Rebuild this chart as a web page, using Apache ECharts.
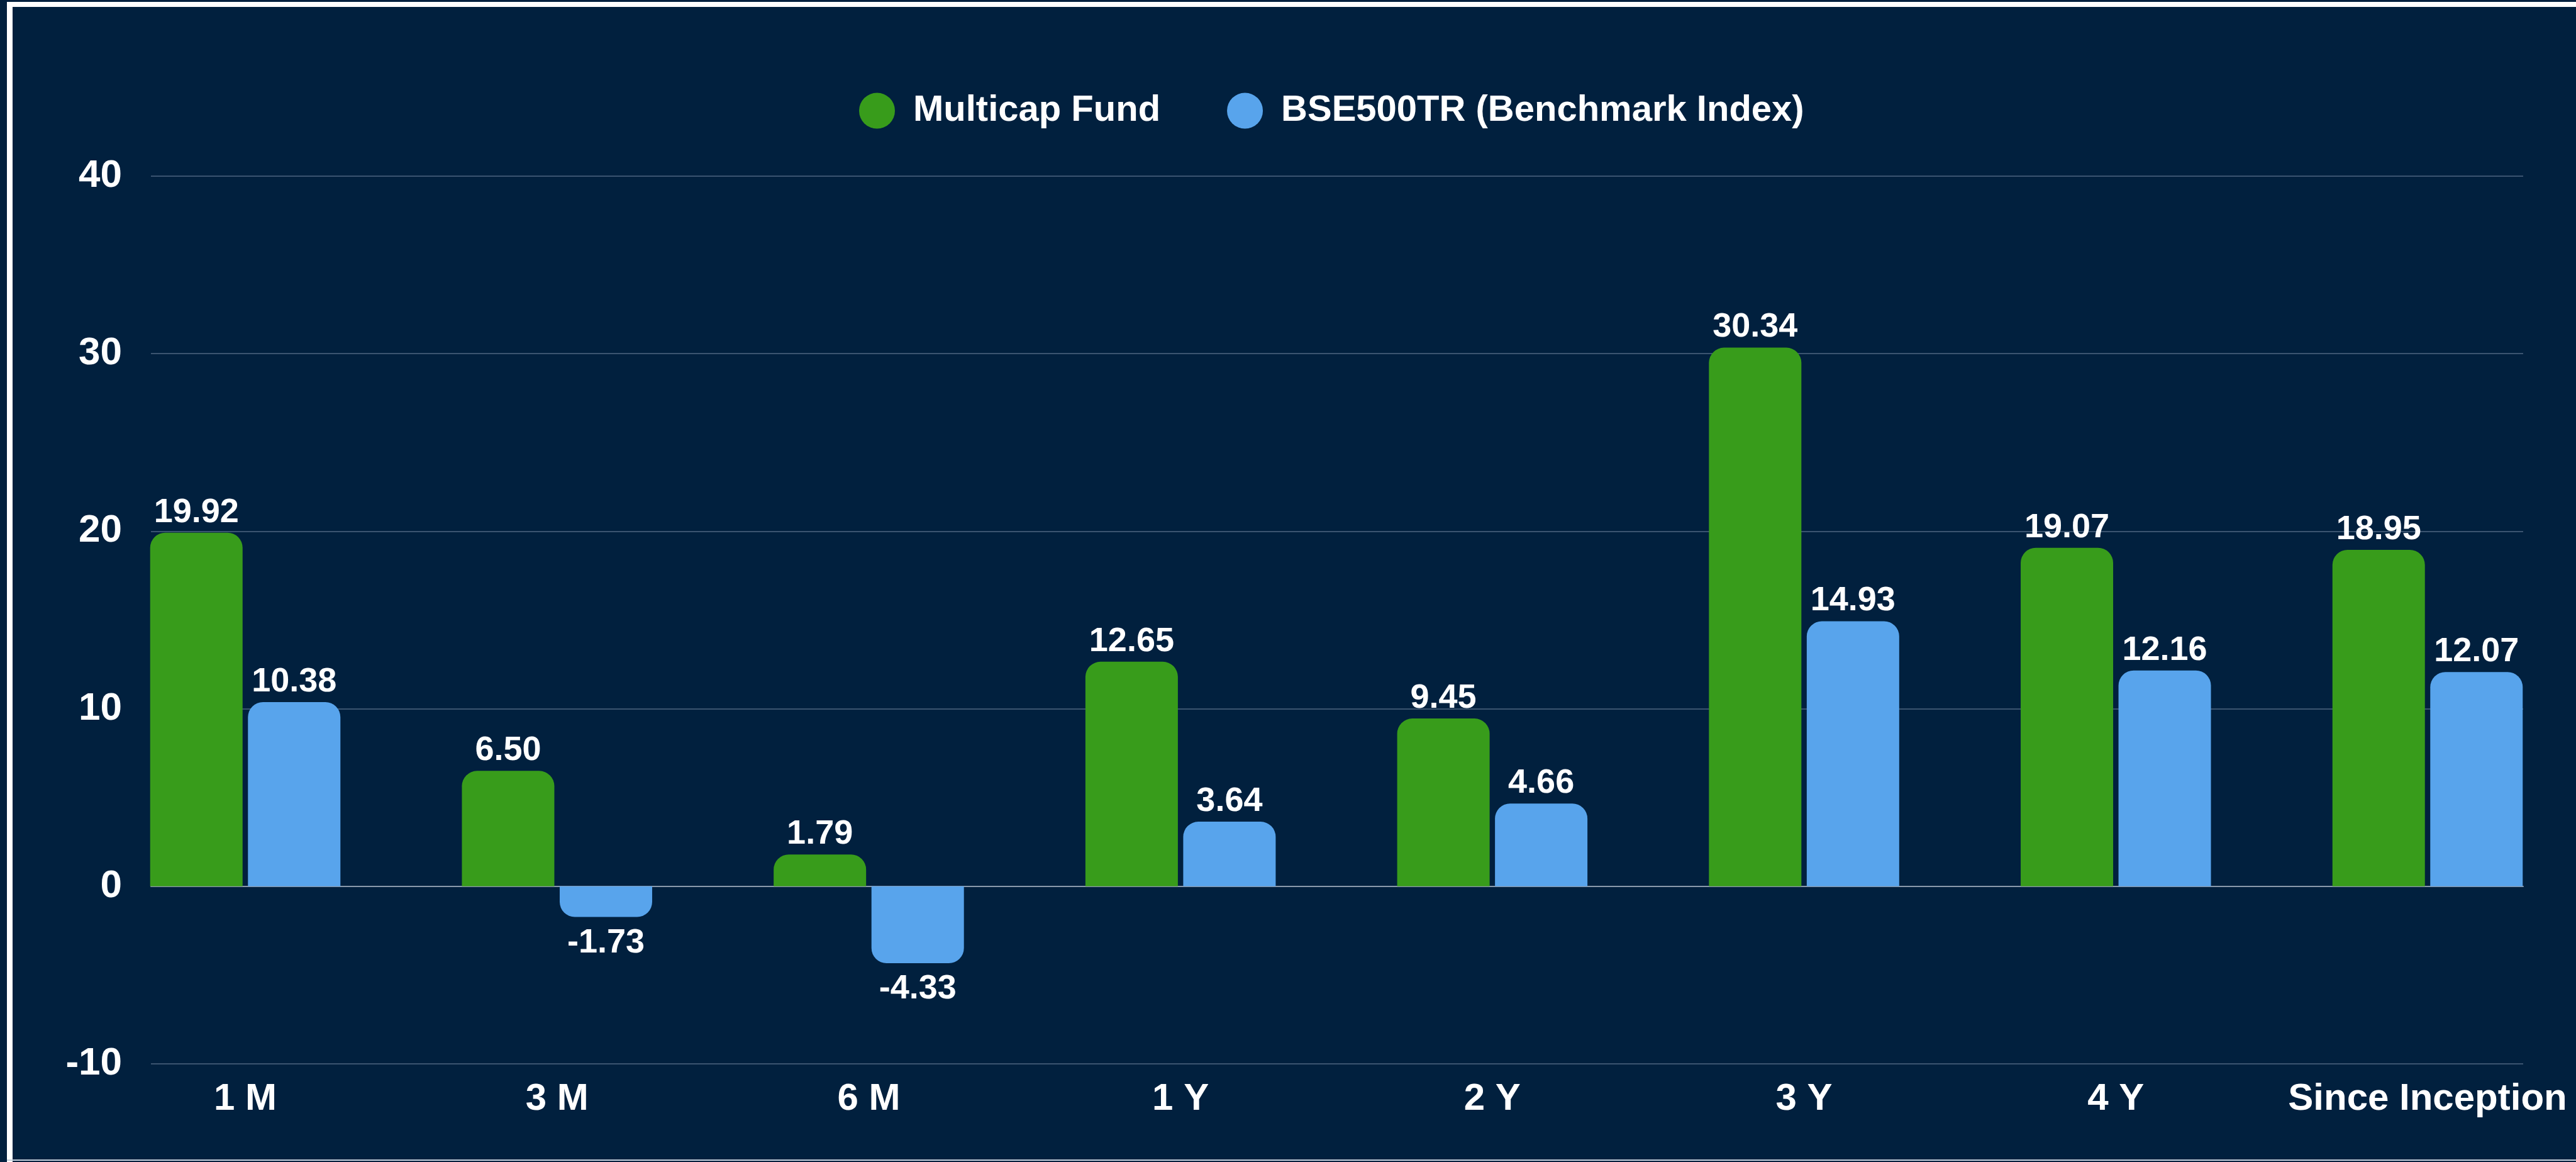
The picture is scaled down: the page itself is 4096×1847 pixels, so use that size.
<!DOCTYPE html>
<html>
<head>
<meta charset="utf-8">
<title>Multicap Fund vs BSE500TR</title>
<script src="https://cdn.jsdelivr.net/npm/echarts@6/dist/echarts.min.js"></script>
<style>
  html, body { margin: 0; padding: 0; background: #01203e; }
  #chart { width: 4096px; height: 1847px; }
</style>
</head>
<body>
<div id="chart"></div>
<script>
  // data
  var categories = ["1 M", "3 M", "6 M", "1 Y", "2 Y", "3 Y", "4 Y", "Since Inception"];
  var fundValues = [19.92, 6.50, 1.79, 12.65, 9.45, 30.34, 19.07, 18.95];
  var benchValues = [10.38, -1.73, -4.33, 3.64, 4.66, 14.93, 12.16, 12.07];
  var seriesNames = ["Multicap Fund", "BSE500TR (Benchmark Index)"];
  var yMin = -10, yMax = 40, yStep = 10;

  var FONT = "'Liberation Sans', Arial, sans-serif";
  var GREEN = "#389c1b", BLUE = "#58a4ec", BG = "#01203e";
  var R = 24;

  // rounded end + outside label, flipped for negative values
  function items(values) {
    return values.map(function (v) {
      var neg = v < 0;
      return {
        value: v,
        itemStyle: { borderRadius: neg ? [0, 0, R, R] : [R, R, 0, 0] },
        label: { position: neg ? "bottom" : "top", distance: neg ? 14 : 5 }
      };
    });
  }

  function barSeries(name, values, color) {
    return {
      name: name, type: "bar", xAxisIndex: 1, yAxisIndex: 1,
      barWidth: 147, barGap: "5.8%", clip: false,
      itemStyle: { color: color },
      label: {
        show: true, color: "#fff", fontFamily: FONT,
        fontWeight: "bold", fontSize: 54,
        formatter: function (p) { return p.value.toFixed(2); }
      },
      data: items(values)
    };
  }

  var chart = echarts.init(document.getElementById("chart"));
  chart.setOption({
    backgroundColor: BG,
    animation: false,
    legend: {
      left: 1361, top: 142, itemWidth: 57, itemHeight: 57, itemGap: 106,
      icon: "circle",
      textStyle: { color: "#fff", fontFamily: FONT, fontWeight: "bold", fontSize: 58, padding: [0, 0, 0, 24] },
      data: seriesNames
    },
    graphic: [
      { type: "rect", shape: { x: 11, y: 3, width: 9, height: 1844 }, style: { fill: "#fff" } },
      { type: "rect", shape: { x: 11, y: 3, width: 4085, height: 8 }, style: { fill: "#fff" } },
      { type: "rect", shape: { x: 11, y: 1843, width: 4085, height: 2 }, style: { fill: "#c8d2de" } }
    ],
    grid: [
      { left: 240, right: 84, top: 280, bottom: 156 },   // gridlines + zero line
      { left: 390, right: 236, top: 280, bottom: 156 }   // bars, centred on first/last ticks
    ],
    xAxis: [
      {
        gridIndex: 0, type: "category", data: categories,
        axisLine: { show: true, onZero: true, lineStyle: { color: "#8a99ab", width: 2 } },
        axisTick: { show: false }, axisLabel: { show: false }
      },
      {
        gridIndex: 1, type: "category", data: categories, boundaryGap: false,
        axisLine: { show: false }, axisTick: { show: false },
        axisLabel: {
          interval: 0, margin: 26, color: "#fff", fontFamily: FONT,
          fontWeight: "bold", fontSize: 60
        }
      }
    ],
    yAxis: [
      {
        gridIndex: 0, type: "value", min: yMin, max: yMax, interval: yStep,
        axisLine: { show: false }, axisTick: { show: false },
        splitLine: { lineStyle: { color: "#3b5470", width: 2 } },
        axisLabel: { margin: 46, color: "#fff", fontFamily: FONT, fontWeight: "bold", fontSize: 62 }
      },
      {
        gridIndex: 1, type: "value", min: yMin, max: yMax, interval: yStep,
        axisLine: { show: false }, axisTick: { show: false },
        splitLine: { show: false }, axisLabel: { show: false }
      }
    ],
    series: [
      barSeries(seriesNames[0], fundValues, GREEN),
      barSeries(seriesNames[1], benchValues, BLUE)
    ]
  });
</script>
</body>
</html>
